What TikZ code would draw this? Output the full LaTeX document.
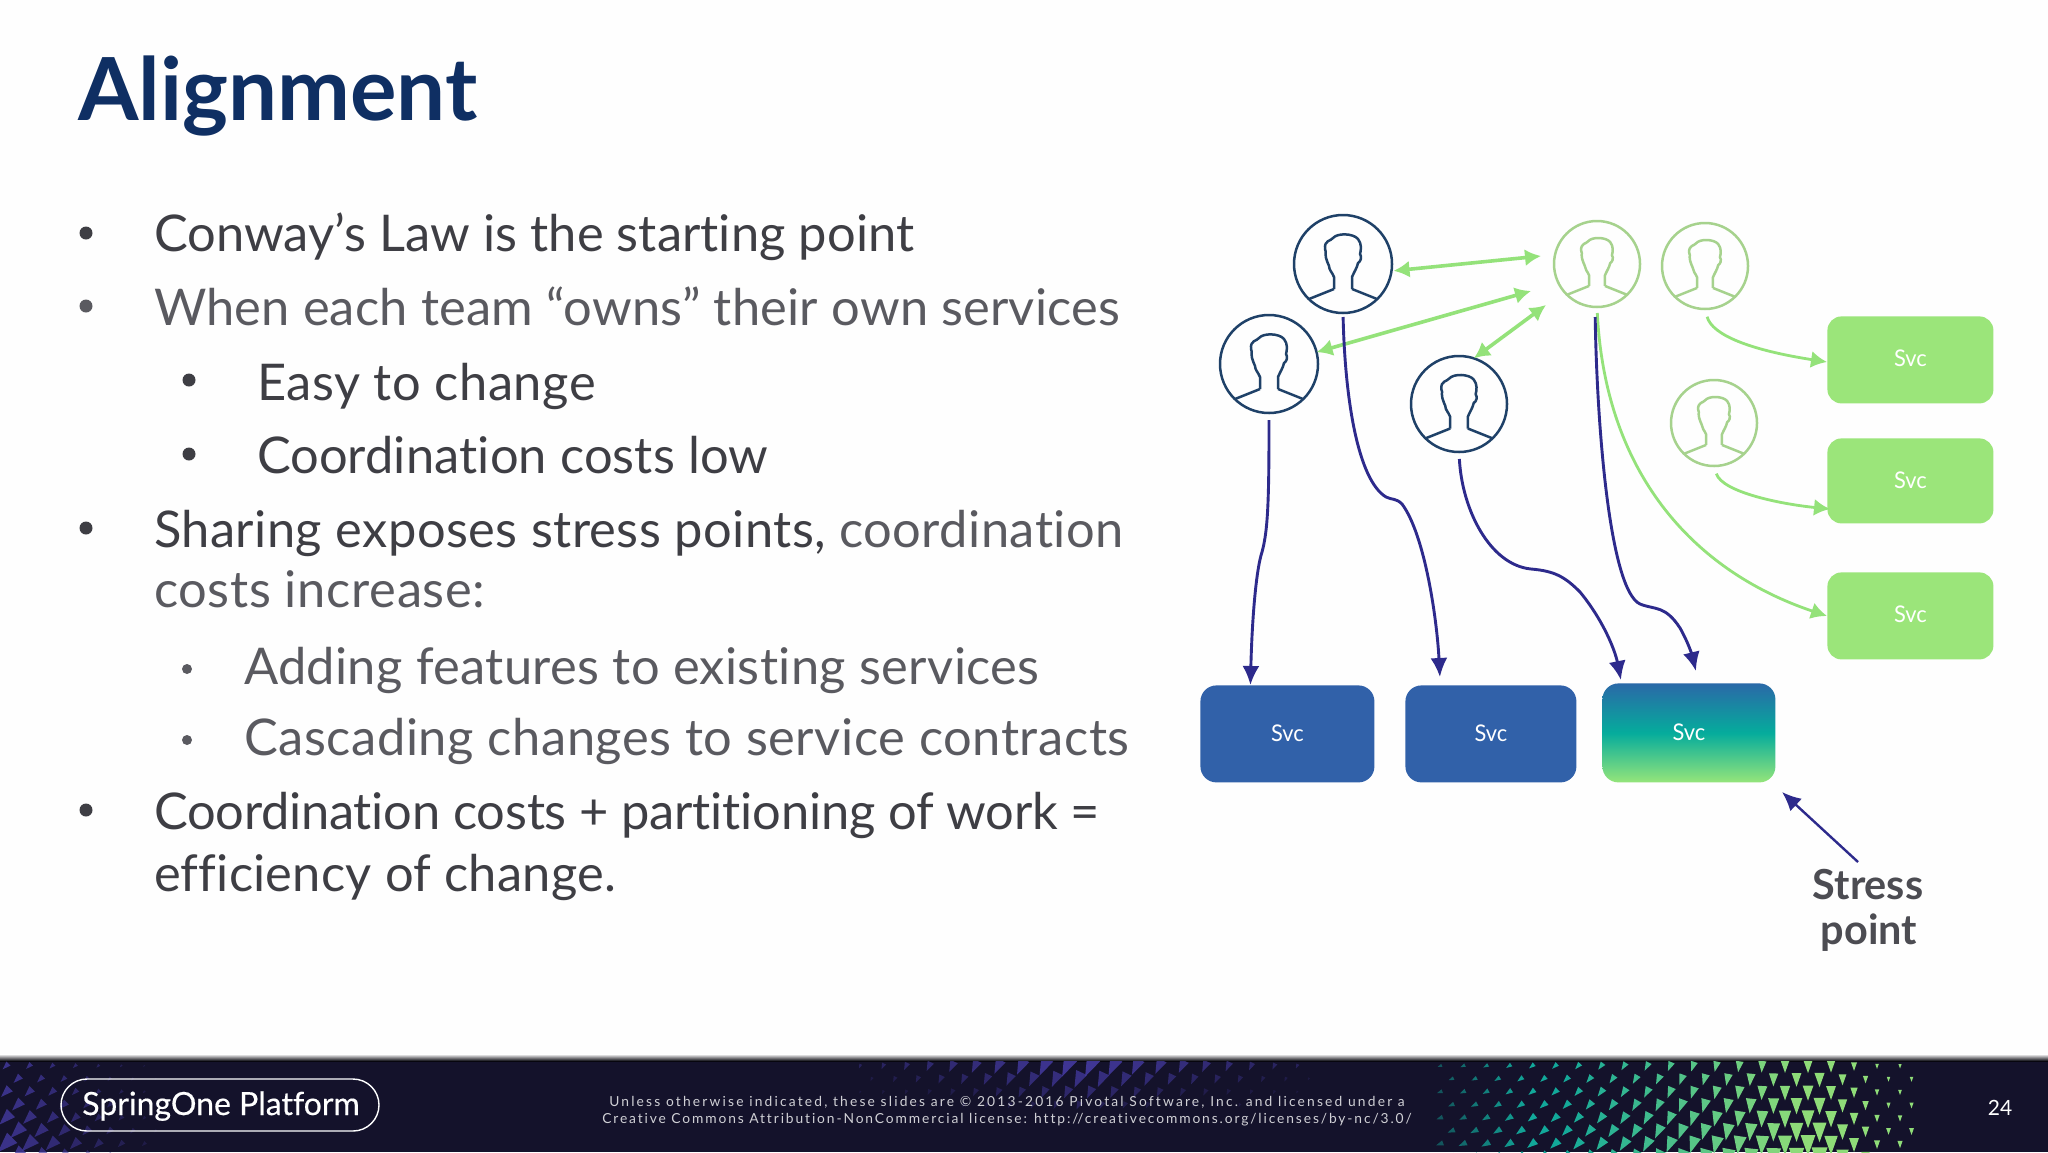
\documentclass[tikz,border=0pt]{standalone}
\usepackage{fontspec}
\usetikzlibrary{arrows.meta,calc,shapes.geometric}
\setmainfont[Ligatures=NoCommon]{Lato}
\definecolor{titlenavy}{HTML}{0F2F63}
\definecolor{txtdark}{HTML}{3E3E44}
\definecolor{txtlight}{HTML}{5A5A60}
\definecolor{barbg}{HTML}{14122B}
\definecolor{svcgreen}{HTML}{9BE57A}
\definecolor{svcblue}{HTML}{3161A9}
\definecolor{arrblue}{HTML}{2D2A8C}
\definecolor{arrgreen}{HTML}{94E27A}
\definecolor{persblue}{HTML}{1F4168}
\definecolor{persgreen}{HTML}{A6D28D}
\definecolor{gradA}{HTML}{2A69A8}
\definecolor{gradB}{HTML}{05AC9C}
\definecolor{gradC}{HTML}{95E57A}
\definecolor{htpurple}{HTML}{43399E}
\definecolor{htteal}{HTML}{12A89A}
\definecolor{htgreen}{HTML}{8FDC78}
\newcommand{\ls}[1]{\addfontfeatures{LetterSpace=#1}}
\tikzset{
  body/.style={anchor=base west,inner sep=0pt,outer sep=0pt,font=\fontsize{25.3}{30}\selectfont,text=txtdark},
  bodyl/.style={body,text=txtlight},
  bul/.style={circle,fill=txtdark,inner sep=0pt,minimum size=6.5pt},
  bulsm/.style={circle,fill=txtlight,inner sep=0pt,minimum size=5pt},
  svcg/.style={rounded corners=7pt,fill=svcgreen,anchor=north west,inner sep=0pt,font=\fontsize{11.5}{12}\selectfont\addfontfeatures{FakeStretch=0.95},text=white},
  svcb/.style={rounded corners=8pt,fill=svcblue,anchor=north west,inner sep=0pt,font=\fontsize{11.5}{12}\selectfont\addfontfeatures{FakeStretch=0.95},text=white},
  blueflow/.style={draw=arrblue,line width=1.45pt,-{Latex[length=9.5pt,width=8.5pt]}},
  greenflow/.style={draw=arrgreen,line width=1.4pt,-{Latex[length=8pt,width=8.5pt]}},
  greenboth/.style={draw=arrgreen,line width=1.8pt,{Latex[length=8pt,width=8.5pt]}-{Latex[length=8pt,width=8.5pt]}},
}
% #1 name, #2 x, #3 y, #4 radius px, #5 colour
\newcommand{\personicon}[5]{%
  \pgfmathsetmacro{\dia}{#4}
  \node[circle,draw=#5,line width=1.25pt,minimum size=\dia pt,inner sep=0pt,outer sep=0pt] (#1) at (#2,#3) {};
  \begin{scope}[shift={(#2,#3)},scale=#4/49]
    \draw[#5,line width=1.25pt,line join=round]
      (-9,25) -- (-9,13) .. controls (-11,8) and (-14,6) .. (-14,2)
      .. controls (-16,0) and (-15,-3) .. (-17,-6) .. controls (-19,-9) and (-16,-11) .. (-18,-15)
      .. controls (-19,-24) and (-12,-23) .. (-10,-26) .. controls (-6,-31) and (10,-31) .. (15,-25)
      .. controls (19,-20) and (18,-14) .. (17,-10) .. controls (19,-7) and (18,-3) .. (15,-1)
      .. controls (14,4) and (11,8) .. (9,13) -- (9,25);
    \draw[#5,line width=1.25pt] (-9,25) -- (-34,35);
    \draw[#5,line width=1.25pt] (9,25) -- (34,35);
  \end{scope}
}
\begin{document}
\begin{tikzpicture}[x=0.5pt,y=-0.5pt]
\useasboundingbox (0,0) rectangle (2048,1152);
\fill[white!99.5!black] (0,0) rectangle (2048,1152);
% footer
\fill[barbg] (0,1060) rectangle (2048,1152);
\shade[top color=white,bottom color=black!70!barbg] (0,1054) rectangle (2048,1061);
\begin{scope}
\clip (0,1061) rectangle (2048,1152);
% halftones: right teal to green
\foreach \r in {0,...,7}{
  \foreach \c in {0,...,20}{
    \pgfmathsetmacro{\hx}{1440+\c*23+mod(\r,2)*11.5}
    \pgfmathsetmacro{\hy}{1066+\r*13}
    \pgfmathsetmacro{\hs}{max(1.5,(5+8.5*(\hx-1440)/360)*(0.62+0.5*(\hy-1060)/92)*(\hx>1820?max(0.3,1-(\hx-1820)/90):1))}
    \pgfmathsetmacro{\hm}{min(100,max(0,(\hx-1560)/2.4))}
    \pgfmathsetmacro{\ho}{min(1,0.45+(\hx-1440)/160)}
    \pgfmathsetmacro{\hr}{-70*max(0,(1780-\hx)/340)}
    \fill[htgreen!\hm!htteal,fill opacity=\ho,shift={(\hx,\hy)},rotate=\hr] (-\hs*0.5,-\hs*0.6) -- (\hs*0.5,-\hs*0.6) -- (0,\hs*0.8) -- cycle;
  }
}
% middle purple
\foreach \r in {0,...,3}{
  \foreach \c in {0,...,19}{
    \pgfmathsetmacro{\hx}{860+\c*23+mod(\r,2)*11.5}
    \pgfmathsetmacro{\hy}{1066+\r*13}
    \pgfmathsetmacro{\hs}{max(1.5,(15-3*\r)*(1-abs(\hx-1080)/280))}
    \pgfmathsetmacro{\ho}{max(0.2,0.95-\r*0.18-abs(\hx-1080)/400)}
    \fill[htpurple,fill opacity=\ho,shift={(\hx,\hy)},rotate=-25] (-\hs*0.5,-\hs*0.6) -- (\hs*0.5,-\hs*0.6) -- (0,\hs*0.8) -- cycle;
  }
}
% left purple
\foreach \r in {0,...,7}{
  \foreach \c in {0,...,6}{
    \pgfmathsetmacro{\hx}{6+\c*23+mod(\r,2)*11.5}
    \pgfmathsetmacro{\hy}{1066+\r*13}
    \pgfmathsetmacro{\hs}{max(1.5,(6+\r*1.5)*(1-\hx/190))}
    \pgfmathsetmacro{\ho}{max(0.2,0.85-\hx/240)}
    \fill[htpurple,fill opacity=\ho,shift={(\hx,\hy)},rotate=-45] (-\hs*0.5,-\hs*0.6) -- (\hs*0.5,-\hs*0.6) -- (0,\hs*0.8) -- cycle;
  }
}
\end{scope}
\node[draw=white,line width=0.7pt,rounded corners=13pt,minimum width=159pt,minimum height=26pt,inner sep=0pt] (pill) at (220,1105) {};
\node[anchor=base,inner sep=0pt,text=white,font=\fontsize{16}{20}\selectfont\addfontfeatures{FakeBold=0.4}] (brand) at (221,1115) {SpringOne Platform};
\node[anchor=base,inner sep=0pt,text=white!80!barbg,font=\fontsize{6.9}{8}\selectfont\addfontfeatures{LetterSpace=15.8}] (lic1) at (1007,1106) {Unless otherwise indicated, these slides are © 2013-2016 Pivotal Software, Inc. and licensed under a};
\node[anchor=base,inner sep=0pt,text=white!80!barbg,font=\fontsize{6.9}{8}\selectfont\addfontfeatures{LetterSpace=13.7}] (lic2) at (1007,1123) {Creative Commons Attribution-NonCommercial license: http://creativecommons.org/licenses/by-nc/3.0/};
\node[anchor=base,inner sep=0pt,text=white,font=\fontsize{10.5}{12}\selectfont] (page) at (2000,1115) {24};
% title
\node[anchor=base west,inner sep=0pt,text=titlenavy,font=\fontsize{43.5}{48}\bfseries\selectfont] (title) at (78,120) {Alignment};
% bullets
\node[bul] (b1) at (86,233) {};
\node[body] (t1) at (154,251) {\ls{0.15}Conway’s Law is the starting point};
\node[bul,fill=txtlight] (b2) at (86,306) {};
\node[bodyl] (t2) at (154,325) {\ls{0.38}When each team “owns” their own services};
\node[bul] (b3) at (189,380) {};
\node[body] (t3) at (257,400) {\ls{1.1}Easy to change};
\node[bul] (b4) at (189,454) {};
\node[body] (t4) at (257,473) {\ls{0.23}Coordination costs low};
\node[bul] (b5) at (86,528) {};
\node[body] (t5) at (154,547) {\ls{0.9}Sharing exposes stress points, \textcolor{txtlight}{coordination}};
\node[bodyl] (t5b) at (154,607) {\ls{1.4}costs increase:};
\node[bulsm] (b6) at (187,669) {};
\node[bodyl] (t6) at (244,684) {\ls{0.7}Adding features to existing services};
\node[bulsm] (b7) at (187,740) {};
\node[bodyl] (t7) at (244,755) {\ls{1.2}Cascading changes to service contracts};
\node[bul] (b8) at (86,810) {};
\node[body] (t8) at (154,829) {\ls{-0.42}Coordination costs + partitioning of work =};
\node[body] (t8b) at (154,891) {\ls{0.5}efficiency of change.};
% people
\personicon{A}{1343}{264}{49}{persblue}
\personicon{B}{1269}{364}{49}{persblue}
\personicon{C}{1459}{404}{48}{persblue}
\personicon{D}{1597}{264}{43}{persgreen}
\personicon{E}{1705}{266}{43}{persgreen}
\personicon{F}{1714}{423}{43}{persgreen}
% service boxes
\node[svcg,minimum width=83pt,minimum height=43.5pt] (g1) at (1827,316) {\raisebox{1.5pt}{Svc}};
\node[svcg,minimum width=83pt,minimum height=42.5pt] (g2) at (1827,438) {\raisebox{1pt}{Svc}};
\node[svcg,minimum width=83pt,minimum height=43.5pt] (g3) at (1827,572) {\raisebox{1.5pt}{Svc}};
\node[svcb,minimum width=87pt,minimum height=48.5pt] (s1) at (1200,685) {\raisebox{1pt}{Svc}};
\node[svcb,minimum width=85.5pt,minimum height=48.5pt] (s2) at (1405,685) {\raisebox{1pt}{Svc}};
\node[rounded corners=8pt,anchor=north west,inner sep=0pt,minimum width=86.5pt,minimum height=49.5pt,
  top color=gradA,bottom color=gradC,middle color=gradB,shading angle=0,text=white,font=\fontsize{11.5}{12}\selectfont\addfontfeatures{FakeStretch=0.95}] (s3) at (1602,683) {\raisebox{1pt}{Svc}};
% green double arrows
\coordinate (dA) at (1541,256);
\coordinate (dB) at (1531,291);
\coordinate (dC) at (1546,305);
\draw[greenboth] (A.-8) ++(2,0) -- (dA);
\draw[greenboth] (B.14) -- (dB);
\draw[greenboth] (C.72) -- (dC);
% green flows
\draw[greenflow,shorten <=4pt] (E.south) .. controls (1712,335) and (1750,350) .. (g1.west |- 0,362);
\draw[greenflow,shorten <=4pt] (F.south) .. controls (1722,492) and (1780,504) .. (1830,509);
\draw[greenflow,shorten <=3pt] (D.south) .. controls (1605,470) and (1690,570) .. (g3.west |- 0,616);
% blue flows
\draw[blueflow,shorten <=3.5pt] (B.south) .. controls (1269,500) and (1268,530) .. (1262,552) .. controls (1256,570) and (1252,620) .. ($(s1.north)+(-37,0)$);
\draw[blueflow,shorten <=2pt] (A.south) .. controls (1345,400) and (1358,480) .. (1386,497) .. controls (1392,500) and (1396,498) .. (1402,504) .. controls (1425,535) and (1437,620) .. ($(s2.north)+(-51,-8)$);
\draw[blueflow,shorten <=3.5pt] (C.south) .. controls (1462,510) and (1490,565) .. (1531,569) .. controls (1555,571) and (1565,577) .. (1580,592) .. controls (1603,620) and (1615,650) .. ($(s3.north)+(-68,-3)$);
\draw[blueflow,shorten <=5pt] (D.south) ++(-2,0) .. controls (1597,430) and (1610,590) .. (1640,604) .. controls (1655,610) and (1665,605) .. (1680,628) .. controls (1688,642) and (1692,655) .. ($(s3.north)+(7,-12)$);
% stress
\node[anchor=base,inner sep=0pt,text=txtlight!85!black,font=\fontsize{20.7}{24}\bfseries\selectfont] (st1) at (1868,899) {Stress};
\node[anchor=base,inner sep=0pt,text=txtlight!85!black,font=\fontsize{20.7}{24}\bfseries\selectfont] (st2) at (1869,944) {point};
\coordinate (stressTip) at (1782,792);
\coordinate (stressTail) at (1858,862);
\draw[blueflow,line width=1.2pt] (stressTail) -- (stressTip);
\end{tikzpicture}
\end{document}
